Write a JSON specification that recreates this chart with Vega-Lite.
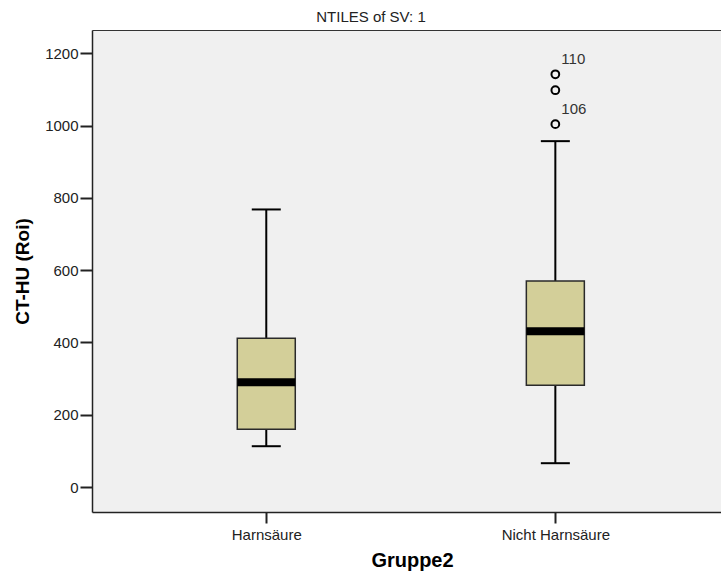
{
  "$schema": "https://vega.github.io/schema/vega-lite/v6.json",
  "autosize": {"type": "none"},
  "padding": {"left": 92, "top": 30, "right": 0, "bottom": 66},
  "width": 640,
  "height": 482,
  "background": "#ffffff",
  "title": {"text": "NTILES of SV: 1", "fontSize": 15, "font": "Liberation Sans Narrow, Liberation Sans", "fontWeight": "normal", "color": "#222222", "anchor": "middle", "dx": -41, "offset": 5},
  "config": {
    "view": {"fill": "#F0F0F0", "stroke": null},
    "axis": {"grid": false, "domainColor": "#222222", "domainWidth": 1.5, "tickColor": "#222222", "tickWidth": 2, "labelFont": "Liberation Sans", "labelColor": "#222222", "titleFont": "Liberation Sans", "titleColor": "#000000", "titleFontWeight": "bold"}
  },
  "resolve": {"axis": {"x": "independent"}},
  "datasets": {
    "boxes": [
      {"group": "Harnsäure", "lower": 113, "q1": 160, "median": 290, "q3": 412, "upper": 768},
      {"group": "Nicht Harnsäure", "lower": 66, "q1": 282, "median": 431, "q3": 570, "upper": 957}
    ],
    "outliers": [
      {"group": "Nicht Harnsäure", "value": 1142, "label": "110"},
      {"group": "Nicht Harnsäure", "value": 1098, "label": ""},
      {"group": "Nicht Harnsäure", "value": 1004, "label": "106"}
    ]
  },
  "layer": [
    {
      "data": {"name": "boxes"},
      "mark": {"type": "rule", "color": "#000000", "strokeWidth": 2},
      "encoding": {
        "x": {"field": "group", "type": "nominal", "sort": ["Harnsäure", "Nicht Harnsäure"],
          "scale": {"type": "point", "padding": 0.607, "align": 0.4966},
          "axis": {"title": "Gruppe2", "labelAngle": 0, "labelFontSize": 15, "tickSize": 11, "labelPadding": 4, "titleFontSize": 20, "titlePadding": 8}},
        "y": {"field": "lower", "type": "quantitative",
          "scale": {"domain": [-69, 1264.5], "nice": false, "zero": false},
          "axis": {"title": "CT-HU (Roi)", "values": [0, 200, 400, 600, 800, 1000, 1200], "format": "d", "labelFontSize": 15, "tickSize": 12, "labelPadding": 2, "titleFontSize": 19, "titlePadding": 12}},
        "y2": {"field": "upper"}
      }
    },
    {
      "data": {"name": "boxes"},
      "mark": {"type": "bar", "fill": "#D3CF99", "stroke": "#2a2a2a", "strokeWidth": 1.5, "size": 58},
      "encoding": {
        "x": {"field": "group", "type": "nominal", "sort": ["Harnsäure", "Nicht Harnsäure"],
          "axis": {"orient": "top", "title": null, "labels": false, "ticks": false, "domainWidth": 1, "domainColor": "#333333"}},
        "y": {"field": "q1", "type": "quantitative"},
        "y2": {"field": "q3"}
      }
    },
    {
      "data": {"name": "boxes"},
      "mark": {"type": "tick", "color": "#000000", "size": 58, "thickness": 8, "opacity": 1},
      "encoding": {
        "x": {"field": "group", "type": "nominal", "sort": ["Harnsäure", "Nicht Harnsäure"], "axis": null},
        "y": {"field": "median", "type": "quantitative"}}
    },
    {
      "data": {"name": "boxes"},
      "mark": {"type": "tick", "color": "#000000", "size": 29, "thickness": 2, "opacity": 1},
      "encoding": {
        "x": {"field": "group", "type": "nominal", "sort": ["Harnsäure", "Nicht Harnsäure"], "axis": null},
        "y": {"field": "lower", "type": "quantitative"}}
    },
    {
      "data": {"name": "boxes"},
      "mark": {"type": "tick", "color": "#000000", "size": 29, "thickness": 2, "opacity": 1},
      "encoding": {
        "x": {"field": "group", "type": "nominal", "sort": ["Harnsäure", "Nicht Harnsäure"], "axis": null},
        "y": {"field": "upper", "type": "quantitative"}}
    },
    {
      "data": {"name": "outliers"},
      "mark": {"type": "point", "shape": "circle", "filled": false, "stroke": "#000000", "strokeWidth": 2, "size": 60, "opacity": 1},
      "encoding": {
        "x": {"field": "group", "type": "nominal", "sort": ["Harnsäure", "Nicht Harnsäure"], "axis": null},
        "y": {"field": "value", "type": "quantitative"}}
    },
    {
      "data": {"name": "outliers"},
      "mark": {"type": "text", "align": "left", "baseline": "middle", "dx": 6, "dy": -15, "fontSize": 15, "font": "Liberation Sans", "color": "#333333"},
      "encoding": {
        "x": {"field": "group", "type": "nominal", "sort": ["Harnsäure", "Nicht Harnsäure"], "axis": null},
        "y": {"field": "value", "type": "quantitative"}, "text": {"field": "label"}}
    }
  ]
}
